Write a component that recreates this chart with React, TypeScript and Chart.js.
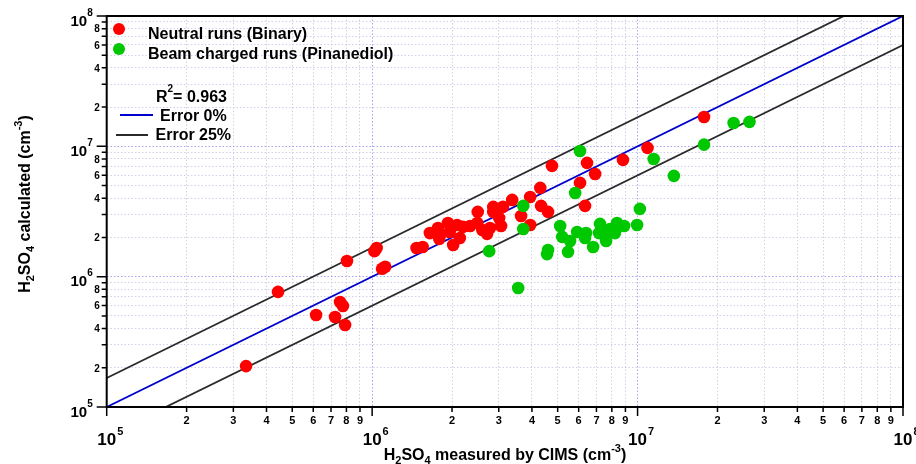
import React, { useEffect, useRef } from "react";
import { Chart, registerables } from "chart.js";
Chart.register(...registerables);

// ---- data ----
const neutralX = [3.35e5, 4.42e5, 6.15e5, 7.25e5, 7.57e5, 7.76e5, 7.91e5, 8.04e5, 1.02e6, 1.04e6, 1.09e6, 1.12e6, 1.47e6, 1.55e6, 1.65e6, 1.77e6, 1.8e6, 1.79e6, 1.93e6, 1.96e6, 2.02e6, 2.09e6, 2.14e6, 2.2e6, 2.34e6, 2.49e6, 2.5e6, 2.6e6, 2.71e6, 2.78e6, 2.86e6, 2.86e6, 3.01e6, 3.06e6, 3.11e6, 3.37e6, 3.64e6, 3.94e6, 3.94e6, 4.3e6, 4.33e6, 4.6e6, 4.76e6, 6.07e6, 6.34e6, 6.45e6, 6.92e6, 8.81e6, 1.09e7, 1.78e7];
const neutralY = [2.06e5, 7.64e5, 5.08e5, 4.91e5, 6.4e5, 5.96e5, 4.26e5, 1.32e6, 1.57e6, 1.66e6, 1.15e6, 1.19e6, 1.66e6, 1.69e6, 2.16e6, 2.36e6, 2.09e6, 1.95e6, 2.58e6, 2.2e6, 1.75e6, 2.49e6, 1.98e6, 2.41e6, 2.45e6, 2.58e6, 3.14e6, 2.28e6, 2.13e6, 2.36e6, 3.43e6, 3.14e6, 2.82e6, 2.45e6, 3.43e6, 3.88e6, 2.92e6, 4.09e6, 2.49e6, 4.8e6, 3.49e6, 3.14e6, 7.08e6, 5.24e6, 3.49e6, 7.46e6, 6.14e6, 7.87e6, 9.73e6, 1.68e7];
const beamX = [2.76e6, 3.55e6, 3.71e6, 3.71e6, 4.56e6, 4.6e6, 5.11e6, 5.2e6, 5.47e6, 5.57e6, 5.82e6, 5.92e6, 6.07e6, 6.34e6, 6.4e6, 6.8e6, 7.22e6, 7.16e6, 7.61e6, 7.67e6, 7.87e6, 8.22e6, 8.37e6, 8.9e6, 9.96e6, 1.02e7, 1.15e7, 1.37e7, 1.78e7, 2.3e7, 2.64e7];
const beamY = [1.57e6, 8.18e5, 3.49e6, 2.32e6, 1.49e6, 1.6e6, 2.45e6, 2.02e6, 1.55e6, 1.88e6, 4.38e6, 2.2e6, 9.22e6, 1.98e6, 2.16e6, 1.69e6, 2.54e6, 2.16e6, 1.88e6, 2.2e6, 2.32e6, 2.16e6, 2.58e6, 2.45e6, 2.49e6, 3.31e6, 8.0e6, 5.93e6, 1.03e7, 1.51e7, 1.54e7];
const refLineX = [1e5, 1e8];
const errorFactor = 1.67;
const decadeExps = [5, 6, 7, 8];
const tickMantissas = [1, 2, 3, 4, 5, 6, 7, 8, 9];
const yMinorLabels = [2, 4, 6, 8];
const xMinorLabels = [2, 3, 4, 5, 6, 7, 8, 9];
const rSquared = "0.963";
const seriesNames = ["Neutral runs (Binary)", "Beam charged runs (Pinanediol)"];
const lineNames = ["Error 0%", "Error 25%"];

const FONT = '"Liberation Sans", Arial, sans-serif';
const RED = "#ff0000";
const GREEN = "#00c800";
const BLUE = "#0000cc";
const DARK = "#2a2a2a";

const tickValues: number[] = [];
decadeExps.forEach((e) => {
  if (e === decadeExps[decadeExps.length - 1]) tickValues.push(Math.pow(10, e));
  else tickMantissas.forEach((m) => tickValues.push(m * Math.pow(10, e)));
});

type Part = { t: string; s: number; dy?: number };
function drawRich(ctx: CanvasRenderingContext2D, parts: Part[], x: number, y: number, align: "left" | "center" | "right") {
  const widths = parts.map((p) => {
    ctx.font = `bold ${p.s}px ${FONT}`;
    return ctx.measureText(p.t).width;
  });
  const total = widths.reduce((a, b) => a + b, 0);
  let cx = align === "left" ? x : align === "center" ? x - total / 2 : x - total;
  ctx.textAlign = "left";
  ctx.textBaseline = "alphabetic";
  parts.forEach((p, i) => {
    ctx.font = `bold ${p.s}px ${FONT}`;
    ctx.fillText(p.t, cx, y + (p.dy || 0));
    cx += widths[i];
  });
}

const decorPlugin = {
  id: "decor",
  afterDraw(chart: any) {
    const ctx: CanvasRenderingContext2D = chart.ctx;
    const xs = chart.scales.x;
    const ys = chart.scales.y;
    const a = chart.chartArea;
    ctx.save();
    ctx.fillStyle = "#000";
    ctx.strokeStyle = "#000";
    // frame
    ctx.lineWidth = 2;
    ctx.strokeRect(a.left, a.top, a.right - a.left, a.bottom - a.top);
    // ticks
    ctx.lineWidth = 1.5;
    tickValues.forEach((v) => {
      const major = Math.abs(Math.log10(v) - Math.round(Math.log10(v))) < 1e-9;
      const py = ys.getPixelForValue(v);
      const px = xs.getPixelForValue(v);
      const len = major ? 10 : 5;
      ctx.beginPath();
      ctx.moveTo(a.left - len, py);
      ctx.lineTo(a.left, py);
      ctx.moveTo(px, a.bottom);
      ctx.lineTo(px, a.bottom + (major ? 9 : 5));
      ctx.stroke();
      const exp = Math.round(Math.floor(Math.log10(v) + 1e-9));
      const mant = Math.round(v / Math.pow(10, exp));
      if (major) {
        drawRich(ctx, [{ t: "10", s: 15 }, { t: String(exp), s: 10, dy: -10 }], a.left - 14, py + 9.5, "right");
        ctx.font = `bold 17px ${FONT}`;
        const w10 = ctx.measureText("10").width;
        drawRich(ctx, [{ t: "10", s: 17 }], px - w10 / 2, 445, "left");
        drawRich(ctx, [{ t: String(exp), s: 11 }], px + w10 / 2 + 1, 435, "left");
      } else {
        if (yMinorLabels.includes(mant)) {
          ctx.font = `bold 10px ${FONT}`;
          ctx.textAlign = "right";
          ctx.textBaseline = "middle";
          ctx.fillText(String(mant), a.left - 7, py + 1);
        }
        if (xMinorLabels.includes(mant)) {
          ctx.font = `bold 11px ${FONT}`;
          ctx.textAlign = "center";
          ctx.textBaseline = "alphabetic";
          ctx.fillText(String(mant), px, 424);
        }
      }
    });
    // axis titles
    drawRich(ctx, [
      { t: "H", s: 16 }, { t: "2", s: 11, dy: 4 }, { t: "SO", s: 16 }, { t: "4", s: 11, dy: 4 },
      { t: " measured by CIMS (cm", s: 16 }, { t: "-3", s: 11, dy: -8 }, { t: ")", s: 16 },
    ], 505, 460, "center");
    ctx.save();
    ctx.translate(30, 204);
    ctx.rotate(-Math.PI / 2);
    drawRich(ctx, [
      { t: "H", s: 16 }, { t: "2", s: 11, dy: 4 }, { t: "SO", s: 16 }, { t: "4", s: 11, dy: 4 },
      { t: " calculated (cm", s: 16 }, { t: "-3", s: 11, dy: -8 }, { t: ")", s: 16 },
    ], 0, 0, "center");
    ctx.restore();
    // legend
    [RED, GREEN].forEach((c, i) => {
      ctx.fillStyle = c;
      ctx.beginPath();
      ctx.arc(119, 29 + 20 * i, 6, 0, Math.PI * 2);
      ctx.fill();
    });
    ctx.fillStyle = "#000";
    drawRich(ctx, [{ t: seriesNames[0], s: 16 }], 148, 39, "left");
    drawRich(ctx, [{ t: seriesNames[1], s: 16 }], 148, 58.5, "left");
    drawRich(ctx, [{ t: "R", s: 16 }, { t: "2", s: 10, dy: -10 }, { t: "= " + rSquared, s: 16 }], 156, 101.5, "left");
    ctx.lineWidth = 2;
    ctx.strokeStyle = BLUE;
    ctx.beginPath();
    ctx.moveTo(120, 115);
    ctx.lineTo(153, 115);
    ctx.stroke();
    ctx.strokeStyle = DARK;
    ctx.beginPath();
    ctx.moveTo(116, 135);
    ctx.lineTo(148, 135);
    ctx.stroke();
    drawRich(ctx, [{ t: lineNames[0], s: 16 }], 160, 120.5, "left");
    drawRich(ctx, [{ t: lineNames[1], s: 16 }], 155.5, 140, "left");
    ctx.restore();
  },
};

export default function App() {
  const ref = useRef<HTMLCanvasElement | null>(null);
  useEffect(() => {
    if (!ref.current) return;
    const gridColor = (c: any) => {
      const v = c.tick ? c.tick.value : 0;
      const l = Math.log10(v);
      return Math.abs(l - Math.round(l)) < 1e-9 ? "rgba(150,150,235,0.85)" : "rgba(190,190,225,0.7)";
    };
    const scaleBase = (size: "w" | "h") => ({
      type: "logarithmic" as const,
      min: refLineX[0],
      max: refLineX[1],
      afterBuildTicks: (s: any) => {
        s.ticks = tickValues.map((v) => ({ value: v }));
      },
      afterFit: (s: any) => {
        if (size === "w") s.width = 106.7;
        else s.height = 57;
      },
      ticks: { display: false },
      grid: { color: gridColor, lineWidth: 1, drawTicks: false },
      border: { display: false, dash: [1.5, 2] },
    });
    const chart = new Chart(ref.current, {
      type: "scatter",
      data: {
        datasets: [
          {
            label: seriesNames[1],
            data: beamX.map((x, i) => ({ x, y: beamY[i] })),
            backgroundColor: GREEN,
            borderWidth: 0,
            pointRadius: 6.3,
            order: 1,
          },
          {
            label: seriesNames[0],
            data: neutralX.map((x, i) => ({ x, y: neutralY[i] })),
            backgroundColor: RED,
            borderWidth: 0,
            pointRadius: 6.3,
            order: 2,
          },
          {
            type: "line",
            label: lineNames[0],
            data: refLineX.map((x) => ({ x, y: x })),
            borderColor: BLUE,
            borderWidth: 1.8,
            pointRadius: 0,
            order: 3,
          },
          {
            type: "line",
            label: lineNames[1] + " upper",
            data: refLineX.map((x) => ({ x, y: x * errorFactor })),
            borderColor: DARK,
            borderWidth: 1.8,
            pointRadius: 0,
            order: 3,
          },
          {
            type: "line",
            label: lineNames[1] + " lower",
            data: refLineX.map((x) => ({ x, y: x / errorFactor })),
            borderColor: DARK,
            borderWidth: 1.8,
            pointRadius: 0,
            order: 3,
          },
        ] as any,
      },
      options: {
        animation: false,
        responsive: false,
        events: [],
        layout: { padding: { left: 0, top: 16, right: 13, bottom: 0 } },
        plugins: { legend: { display: false }, tooltip: { enabled: false }, title: { display: false } },
        scales: {
          x: { ...scaleBase("h"), position: "bottom" },
          y: { ...scaleBase("w"), position: "left" },
        } as any,
      },
      plugins: [decorPlugin],
    });
    return () => chart.destroy();
  }, []);
  return (
    <div style={{ position: "absolute", left: 0, top: 0, width: 916, height: 464, background: "#fff" }}>
      <canvas ref={ref} width={916} height={464} style={{ width: 916, height: 464 }} />
    </div>
  );
}
